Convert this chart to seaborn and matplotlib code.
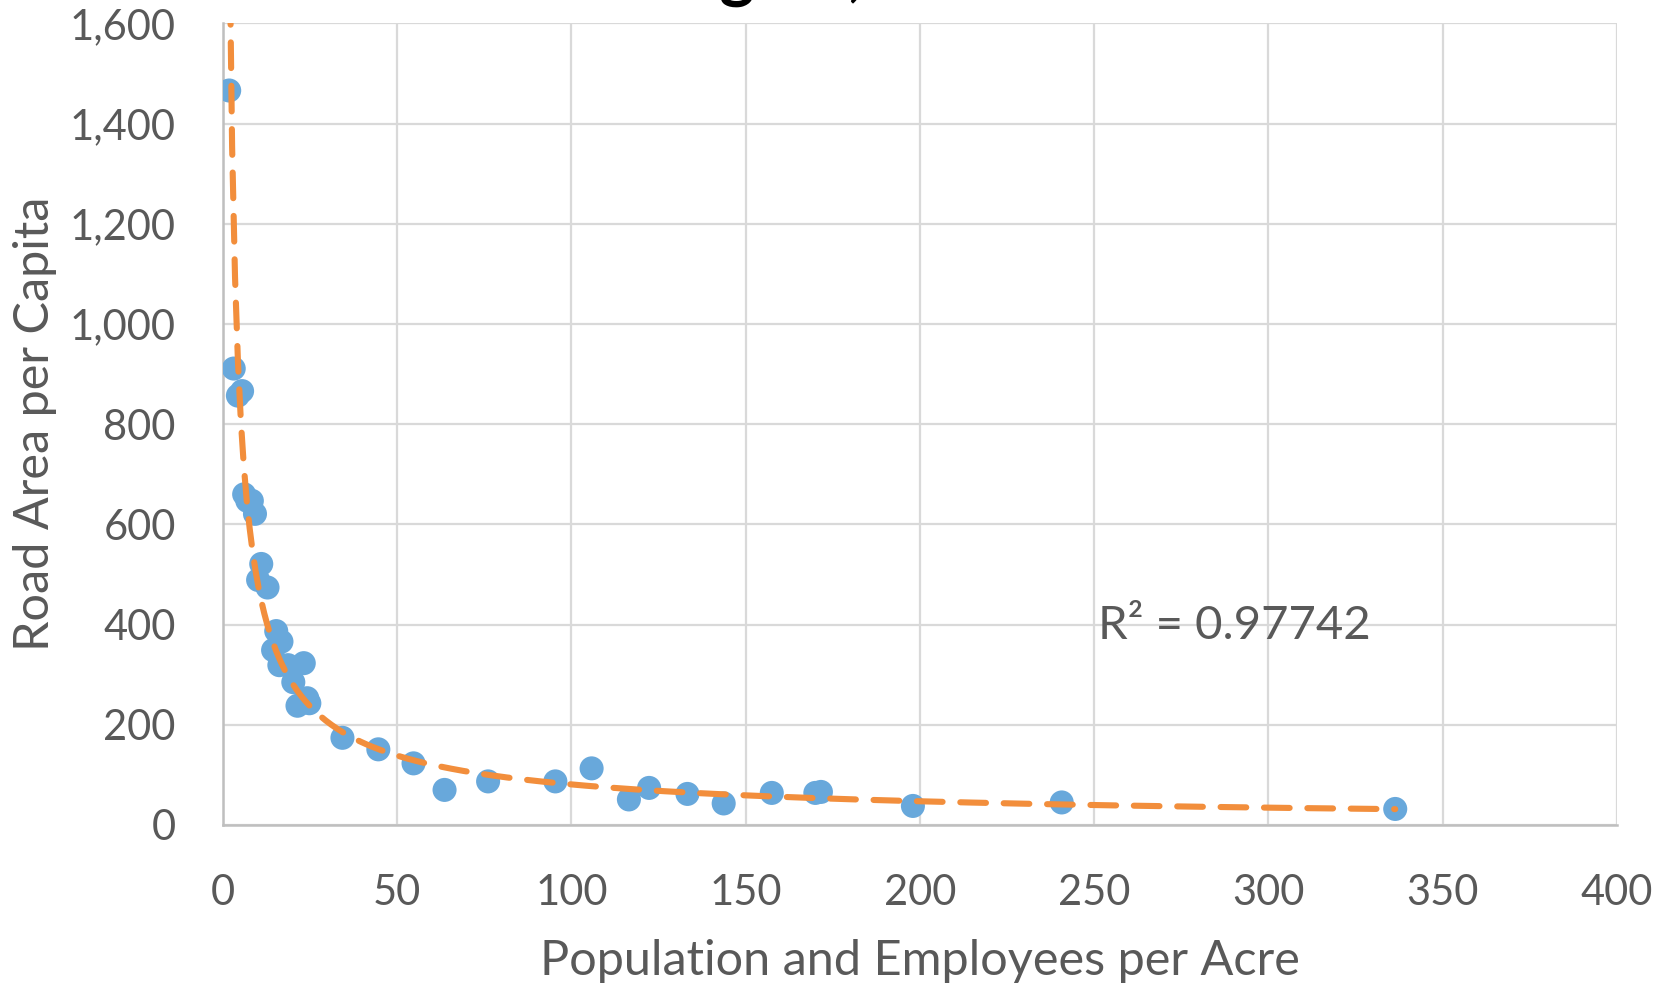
import numpy as np
import pandas as pd
import seaborn as sns
import matplotlib.pyplot as plt
from matplotlib.ticker import FuncFormatter

# density (population + employees per acre) and road area per capita
density = [1.8, 3.1, 4.3, 5.5, 6.1, 7.0, 8.3, 9.2, 11.0, 10.1, 12.8, 15.3, 16.8,
           14.4, 16.2, 18.7, 23.2, 20.2, 21.4, 24.2, 24.8, 34.3, 44.6, 54.7, 63.6,
           76.1, 95.4, 105.8, 116.5, 122.3, 133.3, 143.7, 157.5, 170.0, 171.6,
           198.0, 240.7, 336.4]
road_area = [1466, 911, 857, 866, 660, 647, 647, 621, 521, 489, 474, 387, 366,
             349, 319, 319, 323, 285, 238, 253, 243, 174, 151, 123, 70, 87, 87,
             113, 51, 74, 62, 43, 64, 64, 66, 38, 45, 32]
r2_label = "R² = 0.97742"
title = "Road Area in Each Region, 2010"

df = pd.DataFrame({"density": density, "road_area": road_area})

# power trendline, fitted in log space
b, log_a = np.polyfit(np.log(df.density), np.log(df.road_area), 1)
xs = np.linspace(df.density.min(), df.density.max(), 400)
trend = pd.DataFrame({"density": xs, "road_area": np.exp(log_a) * xs ** b})

sns.set_style("white")
plt.rcParams['font.family'] = ['Lato', 'DejaVu Sans']
grey = '#595959'

fig = plt.figure(figsize=(16.71, 9.86), dpi=100)
ax = fig.add_axes([0.1334, 0.1633, 0.8342, 0.813])

sns.scatterplot(data=df, x="density", y="road_area", ax=ax, s=300,
                color='#68A8DB', edgecolor='none', zorder=3)
sns.lineplot(data=trend, x="density", y="road_area", ax=ax, color='#F28E3C',
             lw=4.4, zorder=4)
ax.lines[-1].set_dashes((4.2, 2.9))
ax.lines[-1].set_dash_capstyle('round')

ax.set_xlim(0, 400)
ax.set_ylim(0, 1600)
ax.set_xticks(range(0, 401, 50))
ax.set_yticks(range(0, 1601, 200))
ax.yaxis.set_major_formatter(FuncFormatter(lambda v, p: f"{int(v):,}"))
ax.grid(True, color='#D9D9D9', lw=1.6)
ax.set_axisbelow(True)
for s in ['top', 'right']:
    ax.spines[s].set_visible(False)
for s in ['left', 'bottom']:
    ax.spines[s].set_color('#BFBFBF')
    ax.spines[s].set_linewidth(1.8)
ax.tick_params(axis='both', length=0, labelsize=30, labelcolor=grey)
ax.tick_params(axis='y', pad=34)
ax.tick_params(axis='x', pad=35)

ax.set_xlabel("Population and Employees per Acre", fontsize=35, color=grey)
ax.set_ylabel("Road Area per Capita", fontsize=35, color=grey)
ax.xaxis.set_label_coords(0.5, -0.142)
ax.yaxis.set_label_coords(-0.119, 0.5)

ax.text(251, 398, r2_label, fontsize=34, color=grey, ha='left', va='center')

# title sits mostly above the visible canvas, as in the source image;
# line it up so its "g" falls where the source shows it
fig.canvas.draw()
probe = fig.text(0, 0, title[:title.index('g')], fontsize=48, fontweight='bold')
prefix_w = probe.get_window_extent(fig.canvas.get_renderer()).width
probe.remove()
fig.text((719 - prefix_w) / 1671, 1.006, title, fontsize=48, fontweight='bold',
         color='black', ha='left', va='baseline')

fig.savefig("out.png", dpi=100)
